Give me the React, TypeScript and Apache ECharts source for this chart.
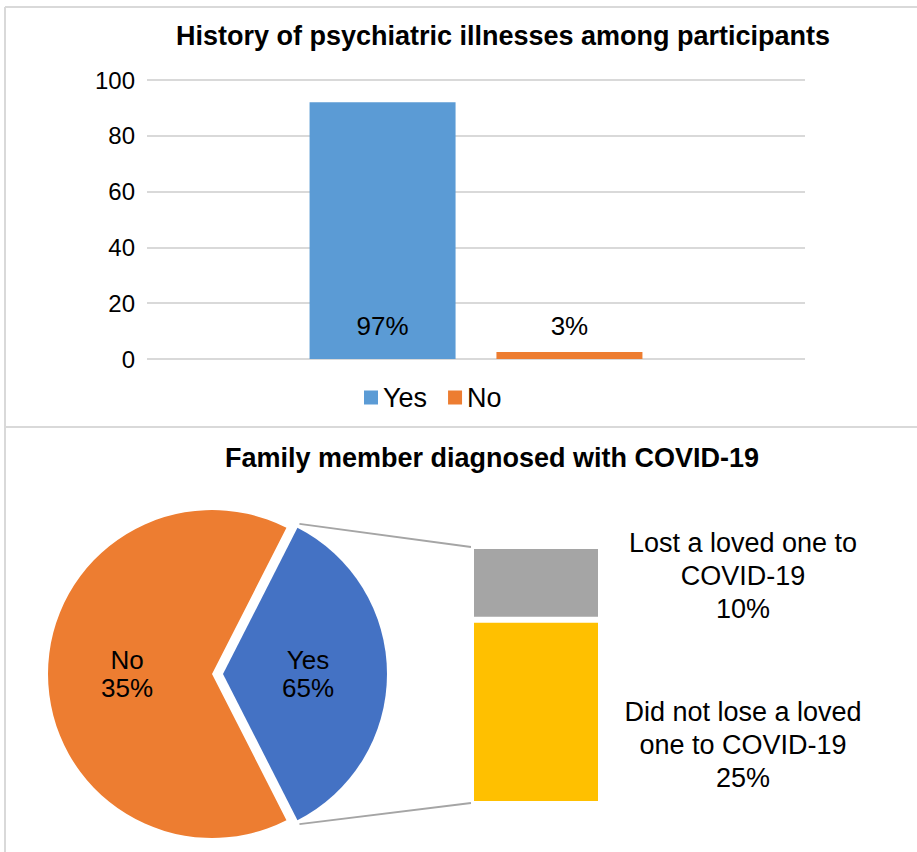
import React, { useEffect, useRef } from "react";
import * as echarts from "echarts";

const barCategories = [""];
const barSeriesNames = ["Yes", "No"];
const barValues = [92, 2.5];
const barLabels = ["97%", "3%"];
const yTicks = { min: 0, max: 100, interval: 20 };

const pieNames = ["Yes", "No"];
const pieValues = [35, 65];
const pieLabels = ["Yes\n65%", "No\n35%"];

const subNames = ["Did not lose a loved\none to COVID-19", "Lost a loved one to\nCOVID-19"];
const subValues = [25, 10];

const FONT = "'Liberation Sans', Arial, sans-serif";

export default function App() {
  const ref = useRef<HTMLDivElement>(null);
  useEffect(() => {
    document.body.style.margin = "0";
    const chart = echarts.init(ref.current!, undefined, { renderer: "svg" });

    // pie geometry
    const pcx = 212, pcy = 674, pr = 164, offset = 11;
    const startAngle = 63;
    const yesSweep = (pieValues[0] / (pieValues[0] + pieValues[1])) * 360;
    const mid = ((startAngle - yesSweep / 2) * Math.PI) / 180;
    const ox = pcx + offset * Math.cos(mid), oy = pcy - offset * Math.sin(mid);
    const a1 = (startAngle * Math.PI) / 180;
    const a2 = ((startAngle - yesSweep) * Math.PI) / 180;
    const tipTop = [ox + pr * Math.cos(a1) + 2, oy - pr * Math.sin(a1) - 4];
    const tipBot = [ox + pr * Math.cos(a2) + 2, oy - pr * Math.sin(a2) + 4];

    const g2 = { left: 471, top: 546, width: 130, height: 258 };

    const lineColor = "#d9d9d9";

    chart.setOption({
      animation: false,
      textStyle: { fontFamily: FONT },
      title: [
        {
          text: "History of psychiatric illnesses among participants",
          left: 503,
          textAlign: "center",
          top: 22,
          padding: 0,
          textStyle: { fontSize: 27, fontWeight: "bold", color: "#000", fontFamily: FONT },
        },
        {
          text: "Family member diagnosed with COVID-19",
          left: 492,
          textAlign: "center",
          top: 444,
          padding: 0,
          textStyle: { fontSize: 27, fontWeight: "bold", color: "#000", fontFamily: FONT },
        },
      ],
      legend: {
        data: barSeriesNames,
        left: 364,
        top: 384,
        itemWidth: 14,
        itemHeight: 14,
        itemGap: 21,
        icon: "rect",
        padding: 0,
        textStyle: { fontSize: 27, color: "#000", fontFamily: FONT },
      },
      grid: [
        { left: 147, top: 80, width: 658, height: 279 },
        g2,
      ],
      xAxis: [
        {
          type: "category",
          gridIndex: 0,
          data: barCategories,
          axisLine: { show: false },
          axisTick: { show: false },
          axisLabel: { show: false },
        },
        {
          type: "category",
          gridIndex: 1,
          data: [""],
          show: false,
        },
      ],
      yAxis: [
        {
          type: "value",
          gridIndex: 0,
          min: yTicks.min,
          max: yTicks.max,
          interval: yTicks.interval,
          axisLabel: { fontSize: 24, color: "#000", margin: 12, fontFamily: FONT },
          splitLine: { lineStyle: { color: lineColor, width: 2 } },
        },
        {
          type: "value",
          gridIndex: 1,
          min: 0,
          max: subValues[0] + subValues[1],
          show: false,
          splitLine: { show: false },
        },
      ],
      series: [
        ...barSeriesNames.map((n, i) => ({
          type: "bar",
          name: n,
          xAxisIndex: 0,
          yAxisIndex: 0,
          data: [barValues[i]],
          barWidth: 146,
          barGap: "28%",
          itemStyle: { color: i === 0 ? "#5b9bd5" : "#ed7d31" },
          label: {
            show: true,
            position: i === 0 ? "insideBottom" : "top",
            distance: i === 0 ? 20 : 13,
            formatter: () => barLabels[i],
            fontSize: 26,
            color: "#000",
            fontFamily: FONT,
          },
        })),
        {
          type: "pie",
          center: [pcx, pcy],
          radius: pr,
          startAngle,
          clockwise: true,
          selectedMode: "single",
          selectedOffset: offset,
          legendHoverLink: false,
          data: pieNames.map((n, i) => ({
            name: n,
            value: pieValues[i],
            selected: i === 0,
            itemStyle: { color: i === 0 ? "#4472c4" : "#ed7d31" },
          })),
          label: {
            show: true,
            position: "inside",
            formatter: (p: any) => pieLabels[p.dataIndex],
            fontSize: 26,
            lineHeight: 28,
            color: "#000",
            fontFamily: FONT,
          },
          labelLine: { show: false },
          emphasis: { disabled: true },
        },
        ...subNames.map((n, i) => ({
          type: "bar",
          name: n,
          xAxisIndex: 1,
          yAxisIndex: 1,
          stack: "sub",
          barWidth: "100%",
          data: [{ value: subValues[i], name: n }],
          itemStyle: {
            color: i === 0 ? "#ffc000" : "#a5a5a5",
            borderColor: "#fff",
            borderWidth: 3,
          },
          label: {
            show: true,
            position: "inside",
            offset: [207, i === 0 ? 33 : -7],
            formatter: () => `${subNames[i]}\n${subValues[i]}%`,
            fontSize: 27,
            lineHeight: 33,
            align: "center",
            color: "#000",
            fontFamily: FONT,
          },
        })),
      ],
      graphic: [
        { type: "line", shape: { x1: 5, y1: 7, x2: 917, y2: 7 }, style: { stroke: lineColor, lineWidth: 2 } },
        { type: "line", shape: { x1: 5, y1: 7, x2: 5, y2: 852 }, style: { stroke: lineColor, lineWidth: 2 } },
        { type: "line", shape: { x1: 5, y1: 427, x2: 917, y2: 427 }, style: { stroke: lineColor, lineWidth: 2 } },
        {
          type: "line",
          shape: { x1: tipTop[0], y1: tipTop[1], x2: g2.left, y2: g2.top + 1 },
          style: { stroke: "#a5a5a5", lineWidth: 2 },
        },
        {
          type: "line",
          shape: { x1: tipBot[0], y1: tipBot[1], x2: g2.left, y2: g2.top + g2.height - 1 },
          style: { stroke: "#a5a5a5", lineWidth: 2 },
        },
      ],
    });
    return () => chart.dispose();
  }, []);
  return <div ref={ref} style={{ width: 917, height: 852 }} />;
}
